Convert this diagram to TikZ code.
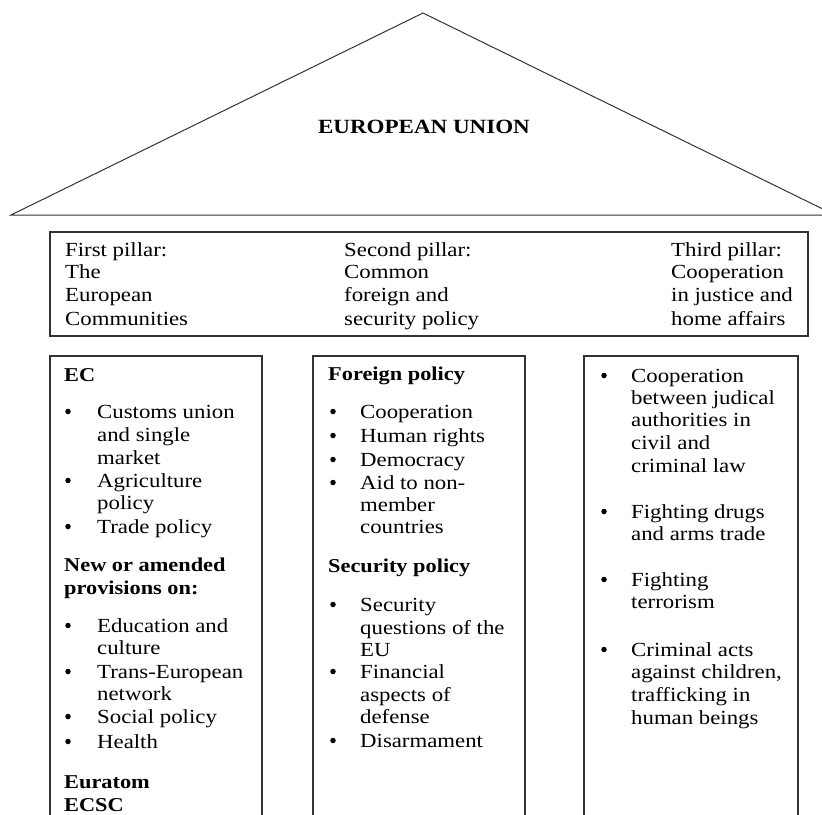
\documentclass[tikz,border=0pt]{standalone}
\usepackage{fontspec}
\setmainfont{Liberation Serif}[FakeStretch=1.14]
\begin{document}
\begin{tikzpicture}[x=1pt,y=-1pt,
  frame/.style={draw=black!80,line width=1.2pt},
  roof/.style={draw=black!80,line width=1pt,line join=miter},
  txt/.style={anchor=base west,inner sep=0pt,font=\fontsize{20}{23}\selectfont},
  hd/.style={anchor=base west,inner sep=0pt,font=\fontsize{19.6}{23}\selectfont\bfseries},
  bul/.style={circle,fill=black,inner sep=0pt,minimum size=5.5pt},
  ttl/.style={anchor=base,inner sep=0pt,font=\fontsize{20.2}{23}\selectfont\bfseries}]
\useasboundingbox (0,0) rectangle (822,814);
\clip (0,0) rectangle (822,814);
% roof
\draw[roof] (11,215) -- (423,13) -- (835,215) -- cycle;
\node[ttl] (title) at (424,133) {EUROPEAN UNION};
% header box
\draw[frame] (50,232) rectangle (808,336);
\foreach \y/\t [count=\i] in {256/First pillar:,278/The,301/European,325/Communities}
  \node[txt] (ha\i) at (65,\y) {\t};
\foreach \y/\t [count=\i] in {256/Second pillar:,278/Common,301/foreign and,325/security policy}
  \node[txt] (hb\i) at (344,\y) {\t};
\foreach \y/\t [count=\i] in {256/Third pillar:,278/Cooperation,301/in justice and,325/home affairs}
  \node[txt] (hc\i) at (671,\y) {\t};
% pillars
\draw[frame] (50,830) -- (50,356) -- (262,356) -- (262,830);
\draw[frame] (313,830) -- (313,356) -- (525,356) -- (525,830);
\draw[frame] (584,830) -- (584,356) -- (798,356) -- (798,830);
% column 1
\node[hd] (lh1) at (64,381) {EC};
\foreach \y/\t [count=\i] in {418/Customs union,441/and single,464/market,487/Agriculture,509/policy,533/Trade policy}
  \node[txt] (la\i) at (97,\y) {\t};
\foreach \y [count=\i] in {418,487,533}
  \node[bul] (lba\i) at (68,\y-6.5) {};
\node[hd] (lh2) at (64,571) {New or amended};
\node[hd] (lh3) at (64,594) {provisions on:};
\foreach \y/\t [count=\i] in {632/Education and,654/culture,678/Trans-European,700/network,723/Social policy,748/Health}
  \node[txt] (lc\i) at (97,\y) {\t};
\foreach \y [count=\i] in {632,678,723,748}
  \node[bul] (lbc\i) at (68,\y-6.5) {};
\node[hd] (lh4) at (64,788) {Euratom};
\node[hd] (lh5) at (64,811) {ECSC};
% column 2
\node[hd] (mh1) at (328,380) {Foreign policy};
\foreach \y/\t [count=\i] in {418/Cooperation,442/Human rights,466/Democracy,489/Aid to non-,511/member,533/countries}
  \node[txt] (ma\i) at (360,\y) {\t};
\foreach \y [count=\i] in {418,442,466,489}
  \node[bul] (mba\i) at (333,\y-6.5) {};
\node[hd] (mh2) at (328,572) {Security policy};
\foreach \y/\t [count=\i] in {611/Security,634/questions of the,656/EU,678/Financial,701/aspects of,723/defense,747/Disarmament}
  \node[txt] (mc\i) at (360,\y) {\t};
\foreach \y [count=\i] in {611,678,747}
  \node[bul] (mbc\i) at (333,\y-6.5) {};
% column 3
\foreach \y/\t [count=\i] in {382/Cooperation,404/between judical,426/authorities in,449/civil and,472/criminal law,518/Fighting drugs,540/and arms trade,586/Fighting,608/terrorism,656/Criminal acts,678/{against children,},701/trafficking in,724/human beings}
  \node[txt] (ra\i) at (631,\y) {\t};
\foreach \y [count=\i] in {382,518,586,656}
  \node[bul] (rb\i) at (604,\y-6.5) {};
\end{tikzpicture}
\end{document}
